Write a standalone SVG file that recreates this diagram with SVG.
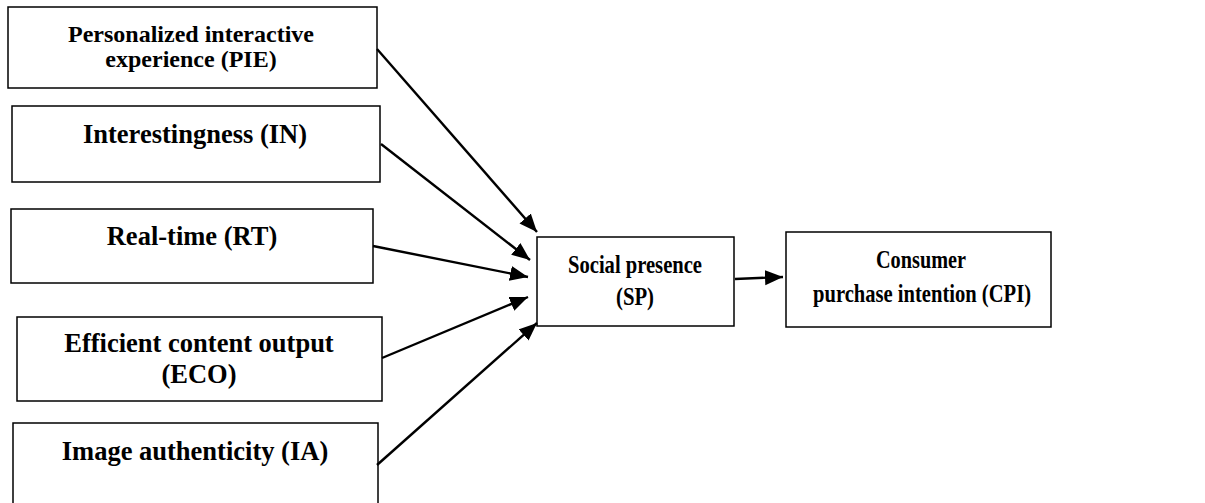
<svg xmlns="http://www.w3.org/2000/svg" width="1205" height="503" viewBox="0 0 1205 503">
<style>
.box{fill:#fff;stroke:#000;stroke-width:1.5}
.t{font-family:"Liberation Serif","Times New Roman",serif;font-weight:bold;fill:#000;text-anchor:middle}
.l{font-size:26.5px}
.s{font-size:24px}
.m{font-size:26px}
.c{stroke:#000;stroke-width:2.4;fill:none;marker-end:url(#ah)}
</style>
<defs>
<marker id="ah" markerUnits="userSpaceOnUse" markerWidth="20" markerHeight="18" refX="18" refY="7.5" orient="auto">
<path d="M0,0 L18,7.5 L0,15 z" fill="#000"/>
</marker>
</defs>
<rect width="1205" height="503" fill="#fff"/>
<g id="PIE">
<rect class="box" x="8" y="7" width="369" height="81"/>
<text class="t s" x="191" y="42">Personalized interactive</text>
<text class="t s" x="191" y="67">experience (PIE)</text>
</g>
<g id="IN">
<rect class="box" x="12" y="106" width="368" height="76"/>
<text class="t l" x="195" y="143">Interestingness (IN)</text>
</g>
<g id="RT">
<rect class="box" x="11" y="209" width="362" height="74"/>
<text class="t l" x="192" y="245">Real-time (RT)</text>
</g>
<g id="ECO">
<rect class="box" x="17" y="317" width="365" height="84"/>
<text class="t l" x="199" y="352">Efficient content output</text>
<text class="t l" x="199" y="383">(ECO)</text>
</g>
<g id="IA">
<rect class="box" x="13" y="423" width="365" height="90"/>
<text class="t l" x="195" y="460">Image authenticity (IA)</text>
</g>
<g id="SP">
<rect class="box" x="537" y="237" width="197" height="89"/>
<text class="t m" x="635" y="273" textLength="134" lengthAdjust="spacingAndGlyphs">Social presence</text>
<text class="t m" x="635" y="305" textLength="38" lengthAdjust="spacingAndGlyphs">(SP)</text>
</g>
<g id="CPI">
<rect class="box" x="786" y="232" width="265" height="95"/>
<text class="t m" x="921" y="268" textLength="90" lengthAdjust="spacingAndGlyphs">Consumer</text>
<text class="t m" x="922" y="302" textLength="218" lengthAdjust="spacingAndGlyphs">purchase intention (CPI)</text>
</g>
<g id="connectors">
<line class="c" x1="377" y1="49" x2="537" y2="232"/>
<line class="c" x1="381" y1="144" x2="530" y2="260"/>
<line class="c" x1="373" y1="246" x2="528" y2="277"/>
<line class="c" x1="382" y1="358" x2="528" y2="297"/>
<line class="c" x1="377" y1="465" x2="537" y2="323"/>
<line class="c" x1="735" y1="279" x2="783" y2="277"/>
</g>
</svg>
